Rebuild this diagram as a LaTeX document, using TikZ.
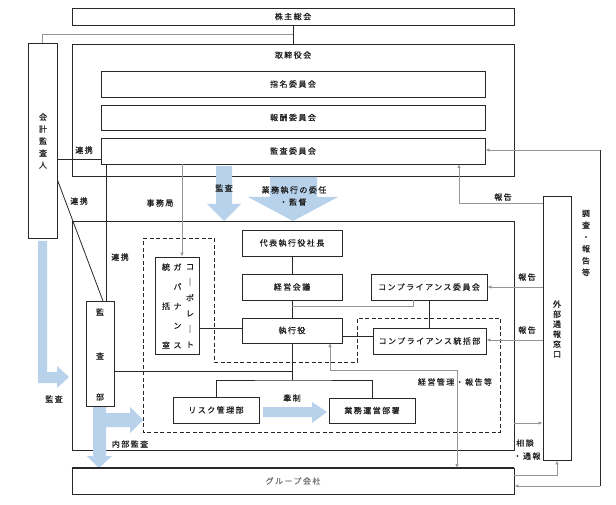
\documentclass[tikz,border=0pt]{standalone}
\usepackage{fontspec}
\newfontfamily\jp[LetterSpace=18,FakeBold=0.5]{Noto Sans CJK JP}
\newfontfamily\jpv[FakeBold=0.5]{Noto Sans CJK JP}
\usetikzlibrary{arrows.meta}
\definecolor{boxc}{RGB}{40,40,40}
\definecolor{txtc}{RGB}{30,30,30}
\definecolor{grayc}{RGB}{150,150,150}
\definecolor{gtext}{RGB}{110,110,110}
\definecolor{bluec}{RGB}{184,210,236}
\begin{document}
\begin{tikzpicture}[x=1pt,y=-1pt,
  box/.style={draw=boxc, line width=0.9pt, inner sep=0pt, fill=white, font=\jp\fontsize{8pt}{10pt}\selectfont, text=txtc},
  lbl/.style={inner sep=0pt, font=\jp\fontsize{8pt}{10pt}\selectfont, text=txtc},
  vlbl/.style={inner sep=0pt, align=center, text=txtc},
  ln/.style={draw=boxc, line width=0.8pt},
  gln/.style={draw=grayc, line width=0.8pt},
  tip/.style={-{Latex[length=4pt,width=3.5pt]}},
  dtip/.style={{Latex[length=4pt,width=3.5pt]}-{Latex[length=4pt,width=3.5pt]}},
  blk/.style={fill=bluec, draw=none},
  dsh/.style={draw=boxc, line width=0.9pt, dash pattern=on 4pt off 2.5pt}]
\useasboundingbox (0,0) rectangle (616,505);
\fill[white] (0,0) rectangle (616,505);

% outer frames
\node[box, minimum width=442pt, minimum height=132pt] (tori) at (293,110) {};
\node[lbl] (toril) at (293,55) {取締役会};
\node[box, minimum width=442pt, minimum height=229pt] (exec) at (293,335.5) {};

% block arrows (blue)
\fill[blk] (216,166) -- (232,166) -- (232,204) -- (241,204) -- (224,221) -- (207,204) -- (216,204) -- cycle;
\fill[blk] (270,177) -- (317,177) -- (317,197) -- (338,197) -- (293,221) -- (248,197) -- (270,197) -- cycle;
\fill[blk] (38,241) -- (47,241) -- (47,372) -- (57,372) -- (57,366) -- (69,377) -- (57,388) -- (57,383) -- (38,383) -- cycle;
\fill[blk] (93,406) -- (106,406) -- (106,413) -- (130,413) -- (130,407) -- (143,420) -- (130,433) -- (130,427) -- (106,427) -- (106,456) -- (112,456) -- (99,468) -- (87,456) -- (93,456) -- cycle;
\fill[blk] (263,407) -- (312,407) -- (312,402) -- (327,412) -- (312,423) -- (312,417) -- (263,417) -- cycle;

% dashed region
\draw[dsh] (143,238) -- (214,238) -- (214,362) -- (357,362) -- (357,318) -- (500,318) -- (500,432) -- (143,432) -- cycle;

% boxes
\node[box, minimum width=442pt, minimum height=17pt] (kabu) at (293,16.5) {株主総会};
\node[box, minimum width=384pt, minimum height=26pt] (shimei) at (293,84) {指名委員会};
\node[box, minimum width=384pt, minimum height=25pt] (hoshu) at (293,117.5) {報酬委員会};
\node[box, minimum width=384pt, minimum height=26pt] (kansai) at (293,151) {監査委員会};
\node[box, minimum width=29pt, minimum height=195pt] (kaikei) at (42.5,140.5) {};
\node[vlbl, font=\jpv\fontsize{8pt}{12pt}\selectfont] (kaikeit) at (43,141) {会\\計\\監\\査\\人};
\node[box, minimum width=44pt, minimum height=97pt] (cg) at (177,305.5) {};
\node[vlbl, font=\jpv\fontsize{8pt}{15.6pt}\selectfont] (cg1) at (190,306) {コ\\｜\\ポ\\レ\\｜\\ト};
\node[vlbl, font=\jpv\fontsize{8pt}{19.5pt}\selectfont] (cg2) at (177.5,306) {ガ\\バ\\ナ\\ン\\ス};
\node[vlbl, font=\jpv\fontsize{8pt}{39pt}\selectfont] (cg3) at (166,306) {統\\括\\室};
\node[box, minimum width=100pt, minimum height=26pt] (daihyo) at (292,243) {代表執行役社長};
\node[box, minimum width=100pt, minimum height=26pt] (keiei) at (292,287) {経営会議};
\node[box, minimum width=100pt, minimum height=25pt] (shikko) at (292,330.5) {執行役};
\node[box, minimum width=116pt, minimum height=26pt] (compi) at (429,287) {コンプライアンス委員会};
\node[box, minimum width=113pt, minimum height=26pt] (compt) at (429.5,341) {コンプライアンス統括部};
\node[box, minimum width=86pt, minimum height=26pt] (risk) at (216,410) {リスク管理部};
\node[box, minimum width=86pt, minimum height=25pt] (gyomu) at (372,410.5) {業務運営部署};
\node[box, minimum width=28pt, minimum height=105pt] (kansabu) at (100,353.5) {};
\node[lbl] (kb1) at (100,312) {監};
\node[lbl] (kb2) at (100,356) {査};
\node[lbl] (kb3) at (100,397) {部};
\node[box, minimum width=28pt, minimum height=264pt] (gaibu) at (557,328) {};
\node[vlbl, font=\jpv\fontsize{8pt}{10pt}\selectfont] (gaibut) at (557,329) {外\\部\\通\\報\\窓\\口};
\node[box, minimum width=442pt, minimum height=26pt, text=gtext] (group) at (293,481) {グループ会社};
\draw[boxc, line width=1.8pt] (group.north west) -- (group.north east);

% helper coordinates
\coordinate (y159) at (0,159);
\coordinate (y180) at (0,180);
\coordinate (x106) at (106,0);
\coordinate (x182) at (182,0);
\coordinate (d1) at (103,301);
\coordinate (y328) at (0,328);
\coordinate (y336) at (0,336);
\coordinate (y340) at (0,340);
\coordinate (y150) at (0,150);
\coordinate (y203) at (0,203);
\coordinate (y423) at (0,423);
\coordinate (y475) at (0,475);
\coordinate (y486) at (0,486);
\coordinate (j1) at (293,34);
\coordinate (t1) at (292,380);
\coordinate (t2) at (292,371);
\coordinate (t3) at (292,306);
\coordinate (c413) at (413,300);
\coordinate (k1) at (330,343);
\coordinate (k2) at (330,370);
\coordinate (k3) at (457,370);
\coordinate (k4) at (457,468);
\coordinate (r1) at (459,164);
\coordinate (s1) at (600,150);
\coordinate (s2) at (600,486);

% connectors
\draw[ln] (kabu.south) -- (tori.north);
\draw[gln] (j1) -| (kaikei.north);
\draw[ln] (kaikei.east |- y159) -- (kansai.west |- y159);
\draw[ln] (x106 |- kansai.south) -- (x106 |- kansabu.north);
\draw[ln] (kaikei.east |- y180) -- (d1);
\draw[gln, tip] (x182 |- kansai.south) -- (x182 |- cg.north);
\draw[ln] (cg.east |- y328) -- (shikko.west |- y328);
\draw[ln] (daihyo.south) -- (keiei.north);
\draw[ln] (keiei.south) -- (shikko.north);
\draw[ln] (shikko.south) -- (t1);
\draw[ln] (risk.north) |- (t1) -| (gyomu.north);
\draw[ln] (kansabu.east |- t2) -- (t2);
\draw[ln] (shikko.east |- y336) -- (compt.west |- y336);
\draw[ln] (compi.south -| compt.north) -- (compt.north);
\draw[gln] (t3) -| (c413);
\draw[gln, dtip] (k1) -- (k2) -- (k3) -- (k4);
\draw[gln, tip] (gaibu.west |- y203) -| (r1);
\draw[gln, tip] (gaibu.west |- compi.east) -- (compi.east);
\draw[gln, tip] (gaibu.west |- y340) -- (compt.east |- y340);
\draw[gln, tip] (s1) -- (kansai.east |- y150);
\draw[ln] (s1) -- (s2);
\draw[gln, tip] (s2) -- (group.east |- y486);
\draw[gln, tip] (exec.east |- y423) -- (gaibu.west |- y423);
\draw[gln, tip] (group.east |- y475) -| (gaibu.south);

% labels
\node[lbl] (l1) at (84,150) {連携};
\node[lbl] (l2) at (79,201) {連携};
\node[lbl] (l3) at (120,257) {連携};
\node[lbl] (l4) at (160,203) {事務局};
\node[lbl] (l5) at (224,188) {監査};
\node[lbl] (l6) at (294,190) {業務執行の委任};
\node[lbl] (l7) at (293,202) {・監督};
\node[lbl] (l8) at (503,197) {報告};
\node[lbl] (l9) at (527,277) {報告};
\node[lbl] (l10) at (527,330) {報告};
\node[vlbl, font=\jpv\fontsize{8pt}{11.8pt}\selectfont] (l11) at (586,243) {調\\査\\・\\報\\告\\等};
\node[lbl] (l12) at (455,382) {経営管理・報告等};
\node[lbl] (l13) at (292,398) {牽制};
\node[lbl] (l14) at (525,443) {相談};
\node[lbl] (l15) at (527,456) {・通報};
\node[lbl] (l16) at (130,444) {内部監査};
\node[lbl] (l17) at (54,399) {監査};
\end{tikzpicture}
\end{document}
